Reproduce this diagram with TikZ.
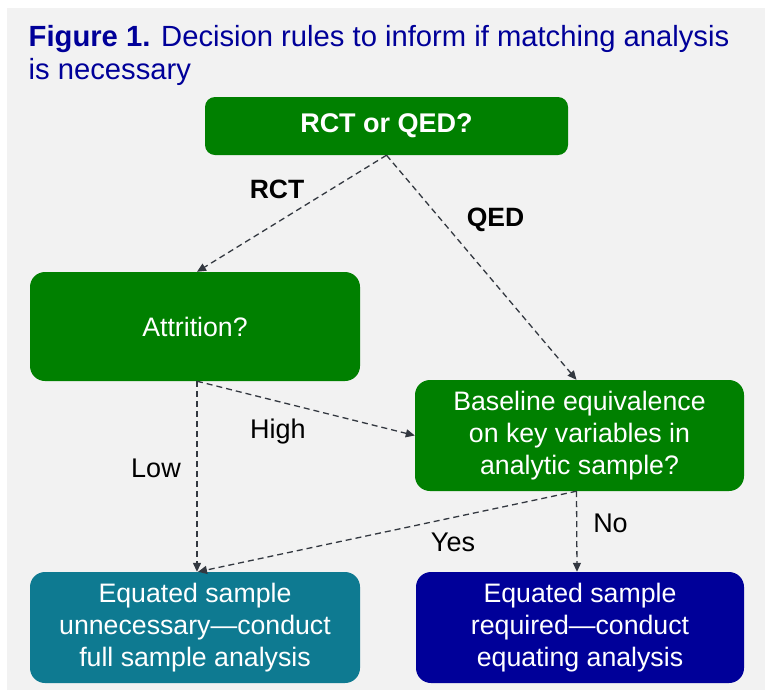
\documentclass[tikz,border=0pt]{standalone}
\usepackage{fontspec}
\setmainfont{Liberation Sans}
\usetikzlibrary{arrows.meta,calc}
\definecolor{bggray}{HTML}{F2F2F2}
\definecolor{boxgreen}{HTML}{008000}
\definecolor{boxteal}{HTML}{0E7A91}
\definecolor{boxnavy}{HTML}{000099}
\definecolor{titleblue}{HTML}{000099}
\definecolor{arrowgray}{HTML}{333840}
\tikzset{
  box/.style={draw=none, rounded corners=15pt, text=white, align=center,
    inner sep=0pt, font=\fontsize{26.7}{32}\selectfont},
  conn/.style={draw=arrowgray, line width=1.3pt, dash pattern=on 6pt off 4pt,
    -{Triangle[length=9pt,width=8pt]}},
  lbl/.style={text=black, inner sep=0pt, anchor=base, font=\fontsize{27}{30}\selectfont},
  blbl/.style={text=black, inner sep=0pt, anchor=base, font=\bfseries\fontsize{26.5}{30}\selectfont},
}
\begin{document}
\begin{tikzpicture}[x=1pt,y=-1pt]
\useasboundingbox (0,0) rectangle (765,694);
\fill[white] (0,0) rectangle (765,694);
\fill[bggray] (7,8) rectangle (765,690);
\node[anchor=base west, text=titleblue, inner sep=0pt, align=left,
  font=\fontsize{29.2}{33}\selectfont] (title) at (28.5,79)
  {\textbf{Figure 1.} Decision rules to inform if matching analysis\\is necessary};
\node[box, fill=boxgreen, minimum width=363pt, minimum height=58pt,
  font=\bfseries\fontsize{27}{30}\selectfont, rounded corners=10pt] (top) at (386.5,126) {RCT or QED?};
\node[box, fill=boxgreen, minimum width=330pt, minimum height=109pt] (attr) at (195,326.5) {Attrition?};
\node[box, fill=boxgreen, minimum width=329pt, minimum height=111pt] (base) at (579.5,435.5)
  {Baseline equivalence\\on key variables in\\analytic sample?};
\node[box, fill=boxteal, minimum width=330pt, minimum height=111pt] (eqL) at (195,627.5)
  {Equated sample\\unnecessary---conduct\\full sample analysis};
\node[box, fill=boxnavy, minimum width=328pt, minimum height=111pt] (eqR) at (580,627.5)
  {Equated sample\\required---conduct\\equating analysis};
\draw[conn] (top.south) -- ($(attr.north)+(2,0)$);
\draw[conn] (top.south) -- ($(base.north)+(-3,0)$);
\draw[conn] ($(attr.south)+(2,0)$) -- ($(eqL.north)+(2,0)$);
\draw[conn] ($(attr.south)+(2,0)$) -- (base.west);
\draw[conn] ($(base.south)+(-3,0)$) -- ($(eqR.north)+(-3,0)$);
\draw[conn] ($(base.south)+(-3,0)$) -- ($(eqL.north)+(3,0)$);
\node[blbl] (lrct) at (277,198) {RCT};
\node[blbl] (lqed) at (495.5,226) {QED};
\node[lbl] (lhigh) at (278,438) {High};
\node[lbl] (llow) at (156,477) {Low};
\node[lbl] (lyes) at (453,551) {Yes};
\node[lbl] (lno) at (610.5,532) {No};
\end{tikzpicture}
\end{document}
